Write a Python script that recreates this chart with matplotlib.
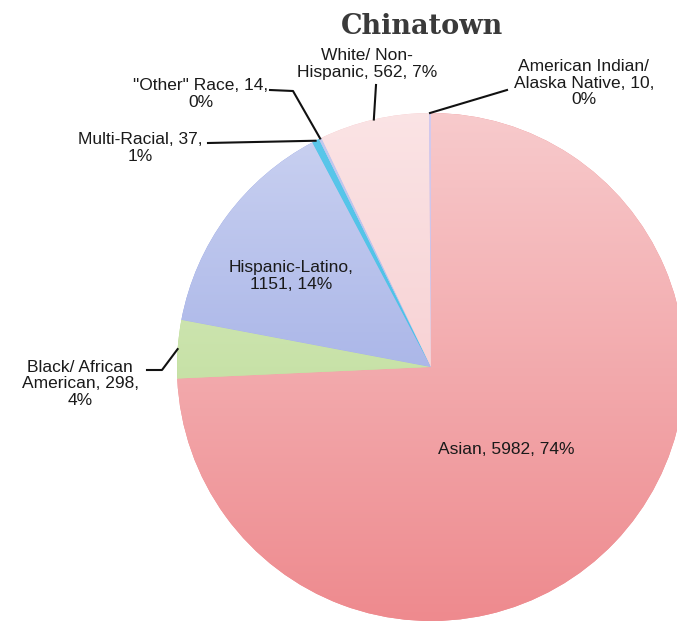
import numpy as np
import matplotlib.pyplot as plt
from matplotlib.colors import to_rgb

# Chinatown population by race
categories = ['Asian', 'Black/ African\nAmerican', 'Hispanic-Latino', 'Multi-Racial',
              '"Other" Race', 'White/ Non-\nHispanic', 'American Indian/\nAlaska Native']
counts = [5982, 298, 1151, 37, 14, 562, 10]
percents = [74, 4, 14, 1, 0, 7, 0]
colors = ['#EE8A8E', '#B3D787', '#8C9CE0', '#3EBDE6', '#A8B4E8', '#F5C2C5', '#C0B4E6']
# how much each slice fades to white toward the top
fade = [0.55, 0.55, 0.55, 0.15, 0.3, 0.55, 0.3]

W, H = 677, 623
CX, CY, R = 431, 367, 254   # pie centre / radius in image pixels

# separators between name / count / percent for each label
seps = [(', ', ', '), (', ', ',\n'), (',\n', ', '), (', ', ',\n'),
        (', ', ',\n'), (', ', ', '), (', ', ',\n')]
# label centres (image px) and leader anchor points
label_pos = [(506, 450), (80, 384), (291, 276), (140, 148), (201, 94), (367, 64), (584, 83)]
leaders = {1: [(147, 370), (162, 370)],
           3: [(208, 143)],
           4: [(270, 90), (293, 91)],
           5: [(376, 85)],
           6: [(507, 90)]}


def iy(y):
    return H - y


def main():
    fig = plt.figure(figsize=(W / 100, H / 100), dpi=100)
    ax = fig.add_axes([0, 0, 1, 1])

    wedges, _ = ax.pie(counts, colors=colors, startangle=90, counterclock=False,
                       center=(CX, iy(CY)), radius=R,
                       wedgeprops=dict(linewidth=0))

    # vertical light-to-dark gradient on each slice
    t = np.linspace(0, 1, 256)[:, None]
    for w, c, f in zip(wedges, colors, fade):
        base = np.array(to_rgb(c))
        mix = f * (1 - t)
        grad = base[None, :] * (1 - mix) + mix
        grad = grad[:, None, :]
        im = ax.imshow(grad, extent=[CX - R, CX + R, iy(CY) - R, iy(CY) + R],
                       origin='upper', aspect='auto', zorder=1.5, interpolation='bilinear')
        im.set_clip_path(w)

    # labels
    for i, (cat, n, p) in enumerate(zip(categories, counts, percents)):
        s1, s2 = seps[i]
        txt = f"{cat}{s1}{n}{s2}{p}%"
        x, y = label_pos[i]
        ax.text(x, iy(y), txt, ha='center', va='center', fontsize=12.5,
                family='Liberation Sans', color='#1a1a1a', linespacing=1.1, zorder=4)

    # leader lines from labels to slice edges
    for i, pts in leaders.items():
        w = wedges[i]
        mid = np.deg2rad((w.theta1 + w.theta2) / 2)
        ex = CX + R * np.cos(mid)
        ey = iy(CY) + R * np.sin(mid)
        xs = [p[0] for p in pts] + [ex]
        ys = [iy(p[1]) for p in pts] + [ey]
        ax.plot(xs, ys, color='#111111', linewidth=1.5, zorder=3)

    fig.text(422 / W, 1 - 27 / H, 'Chinatown', ha='center', va='center',
             fontsize=19.5, fontweight='bold', family='DejaVu Serif', color='#3a3a3a')

    ax.set_xlim(0, W)
    ax.set_ylim(0, H)
    ax.set_aspect('equal')
    ax.axis('off')

    fig.savefig('out.png', dpi=100)


if __name__ == "__main__":
    main()
